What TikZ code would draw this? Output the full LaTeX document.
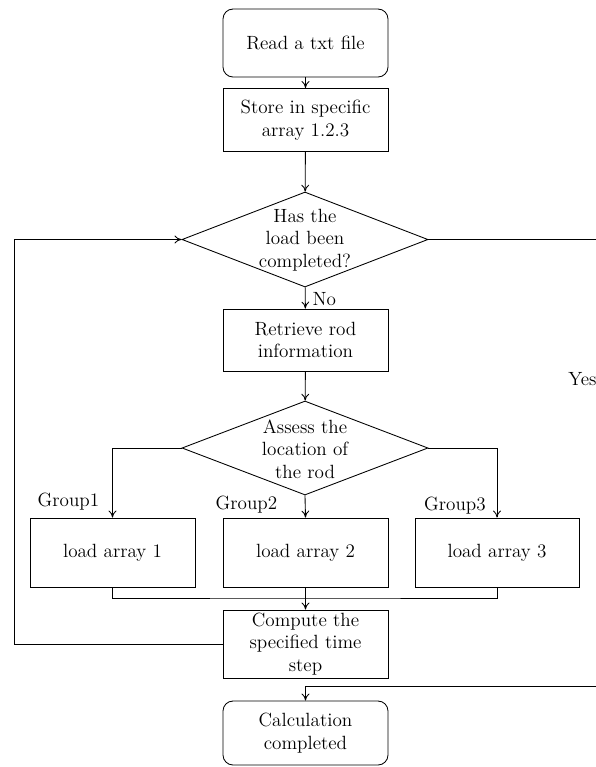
\documentclass[tikz,border=0pt]{standalone}
\usetikzlibrary{shapes.geometric,arrows.meta}
\def\pxu{0.575pt}
\tikzset{
  every node/.style={font=\fontsize{11}{13}\selectfont, inner sep=0pt},
  box/.style={draw, rectangle, align=center, minimum width=165*\pxu, minimum height=65*\pxu, line width=0.5pt},
  rbox/.style={box, rounded corners=10*\pxu},
  decision/.style={draw, diamond, minimum width=246*\pxu, minimum height=95*\pxu, line width=0.5pt},
  txt/.style={align=center},
  arr/.style={line width=0.5pt, -{To[length=4pt,width=4.5pt]}},
  ln/.style={line width=0.5pt}
}
\begin{document}
\begin{tikzpicture}[x=0.575pt,y=-0.575pt]
\useasboundingbox (0,0) rectangle (596,767);
\node[rbox, minimum height=68*\pxu] (read) at (305.5,43) {Read a txt file};
\node[box, minimum height=63*\pxu] (store) at (305.5,120) {Store in specific\\array 1.2.3};
\node[decision] (dec1) at (305,239.5) {};
\node[txt] (dec1t) at (305,240) {Has the\\load been\\completed?};
\node[box, minimum height=62*\pxu] (retr) at (305.5,340) {Retrieve rod\\information};
\node[decision, minimum height=94*\pxu] (dec2) at (305,448) {};
\node[txt] (dec2t) at (305,449) {Assess the\\location of\\the rod};
\node[box, minimum height=69*\pxu] (load1) at (112.5,552.5) {load array 1};
\node[box, minimum height=69*\pxu] (load2) at (305.5,552.5) {load array 2};
\node[box, minimum height=69*\pxu, minimum width=164*\pxu] (load3) at (497,552.5) {load array 3};
\node (g1) at (68.5,502) {Group1};
\node (g2) at (246.5,505) {Group2};
\node (g3) at (455,506) {Group3};
\node[box, minimum height=68*\pxu] (comp) at (305.5,644) {Compute the\\specified time\\step};
\node[rbox, minimum height=64*\pxu] (calc) at (305.5,733) {Calculation\\completed};
\node[anchor=west] (yes) at (568,379) {Yes};
\coordinate (lp) at (14.5,0);
\coordinate (yr) at (598,0);
\coordinate (mrg) at (305.5,598);
\coordinate (yj) at (305.5,686);
\draw[arr] (read) -- (store);
\draw[arr] (store) -- (dec1);
\draw[arr] (dec1) -- node[right, xshift=4pt, pos=0.55] (no) {No} (retr);
\draw[arr] (retr) -- (dec2);
\draw[arr] (dec2.west) -| (load1.north);
\draw[arr] (dec2.south) -- (load2.north);
\draw[arr] (dec2.east) -| (load3.north);
\draw[ln] (load1.south) |- (mrg) -| (load3.south);
\draw[arr] (load2.south) -- (comp.north);
\draw[arr] (comp.west) -- (comp.west -| lp) -- (dec1.west -| lp) -- (dec1.west);
\draw[arr] (dec1.east) -- (dec1.east -| yr) -- (yj -| yr) -- (yj) -- (calc.north);
\end{tikzpicture}
\end{document}
